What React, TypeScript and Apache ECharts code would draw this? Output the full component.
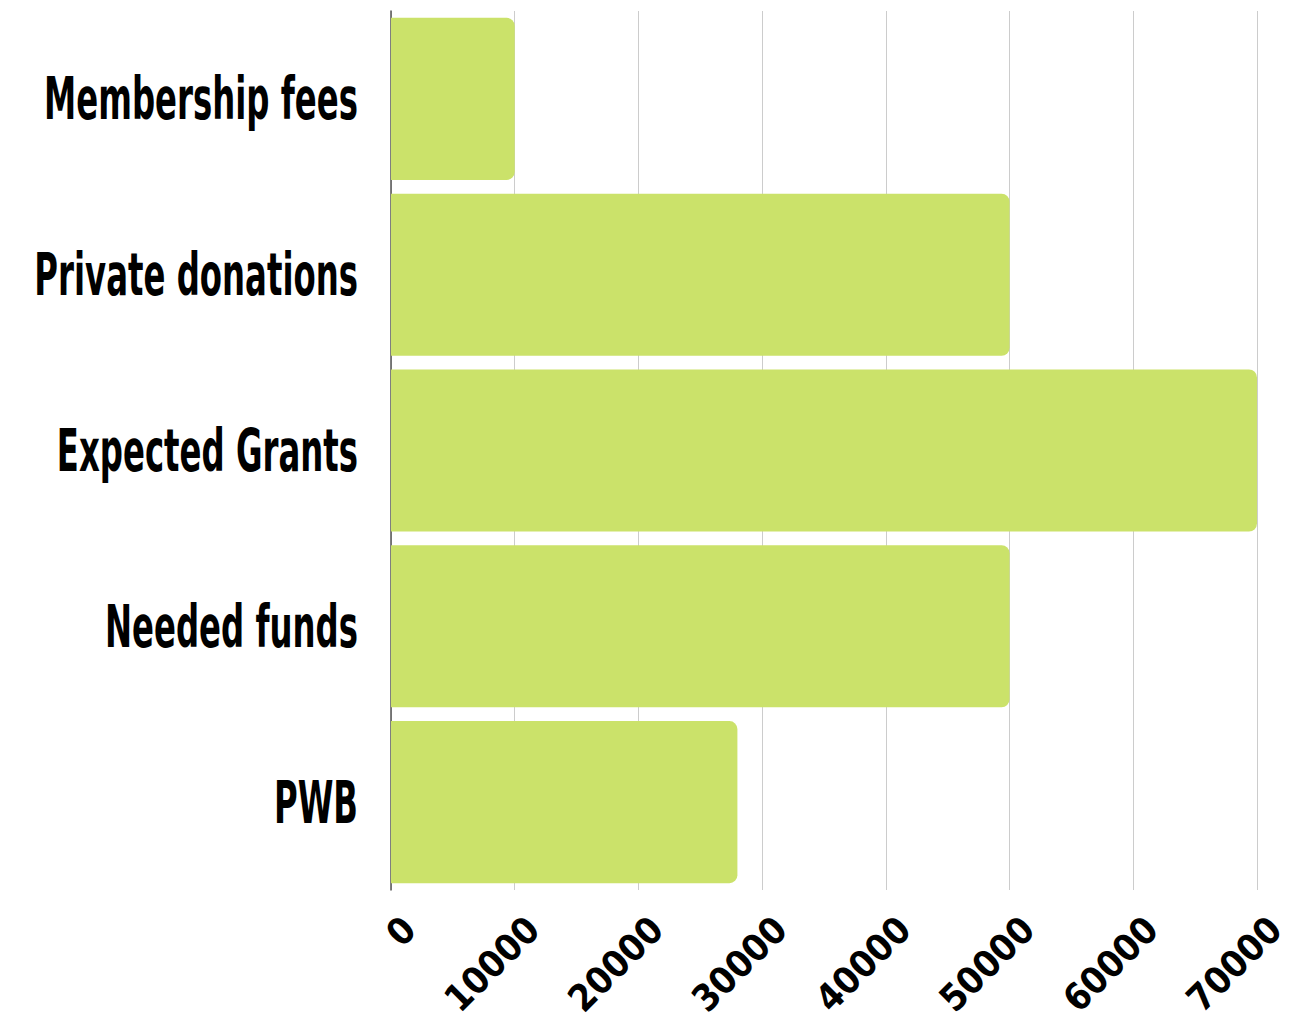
import React, { useEffect, useRef } from "react";
import * as echarts from "echarts";

const categories = ["Membership fees", "Private donations", "Expected Grants", "Needed funds", "PWB"];
const values = [10000, 50000, 70000, 50000, 28000];
const xTicks = { min: 0, max: 70000, interval: 10000 };

const FONT = "'DejaVu Sans Condensed', 'Liberation Sans Narrow', 'Arial Narrow', sans-serif";

export default function App() {
  const ref = useRef<HTMLDivElement>(null);
  useEffect(() => {
    const chart = echarts.init(ref.current!, null, { renderer: "svg" });
    chart.setOption({
      animation: false,
      backgroundColor: "#ffffff",
      grid: { left: 391, right: 33, top: 11, bottom: 135, containLabel: false, outerBoundsMode: "none" },
      xAxis: {
        type: "value",
        min: xTicks.min,
        max: xTicks.max,
        interval: xTicks.interval,
        axisLine: { show: false },
        axisTick: { show: false },
        splitLine: { show: true, lineStyle: { color: "#cccccc", width: 1 } },
        axisLabel: {
          rotate: 45,
          margin: 15,
          color: "#000000",
          fontFamily: FONT,
          fontWeight: "bold",
          fontSize: 37,
          verticalAlign: "top",
          lineHeight: 40,
          padding: [6, 0, 0, 0],
          formatter: (v: number) => String(v),
        },
      },
      yAxis: {
        type: "category",
        data: categories,
        inverse: true,
        axisLine: { show: true, lineStyle: { color: "#555555", width: 1.5 } },
        axisTick: { show: false },
        axisLabel: { show: false },
      },
      series: [
        {
          type: "bar",
          data: values,
          barCategoryGap: "7.8%",
          itemStyle: { color: "#CBE26A", borderRadius: [0, 8, 8, 0] },
        },
      ],
    });
    const labelX = (chart.convertToPixel({ xAxisIndex: 0 }, xTicks.min) as number) - 33;
    const graphics = categories.map((c) => ({
      type: "text",
      x: labelX,
      y: chart.convertToPixel({ yAxisIndex: 0 }, c) as number,
      scaleX: 0.62,
      style: {
        text: c,
        fill: "#000000",
        font: `bold 58px ${FONT}`,
        align: "right",
        verticalAlign: "middle",
      },
    }));
    chart.setOption({ graphic: graphics });
    return () => chart.dispose();
  }, []);
  return <div ref={ref} style={{ width: 1290, height: 1025, position: "absolute", left: 0, top: 0 }} />;
}
